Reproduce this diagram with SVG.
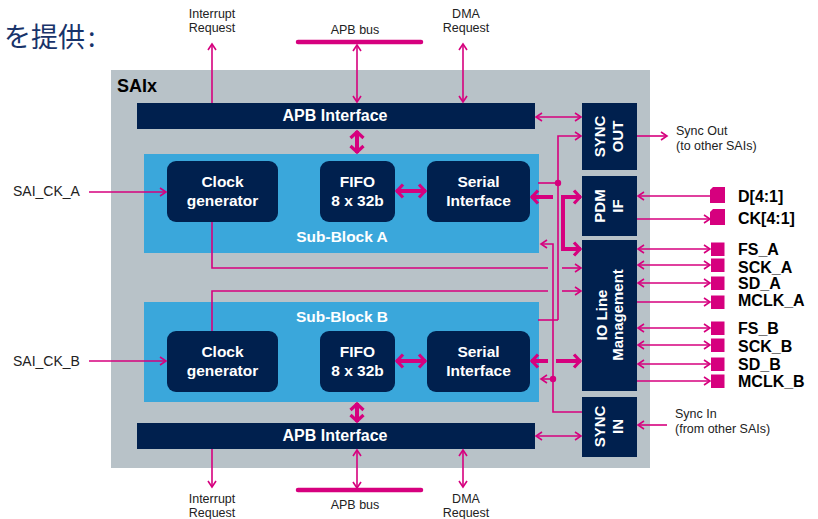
<svg xmlns="http://www.w3.org/2000/svg" width="818" height="519" viewBox="0 0 818 519">
<defs>
<style>
.nv{fill:#00204E}
.lb{fill:#3AA7DB}
.wt{fill:#FFFFFF;font-family:"Liberation Sans",Arial,sans-serif;font-weight:bold;font-size:15.5px;text-anchor:middle}
.rt{fill:#FFFFFF;font-family:"Liberation Sans",Arial,sans-serif;font-weight:bold;font-size:15px;text-anchor:middle}
.sm{fill:#222222;font-family:"Liberation Sans",Arial,sans-serif;font-size:12.5px}
.smc{text-anchor:middle}
.pin{fill:#000000;font-family:"Liberation Sans",Arial,sans-serif;font-weight:bold;font-size:16px}
.ln{fill:none;stroke:#D6007E;stroke-width:1.6}
.th{fill:none;stroke:#D6007E;stroke-width:4}
.bus{fill:none;stroke:#D6007E;stroke-width:4.5;stroke-linecap:round}
.pad{fill:#D6007E}
</style>
<marker id="a" viewBox="0 0 10 10" refX="8" refY="5" markerWidth="10" markerHeight="10" markerUnits="userSpaceOnUse" orient="auto-start-reverse">
<path d="M2,1 L8,5 L2,9" fill="none" stroke="#D6007E" stroke-width="1.6"/>
</marker>
<marker id="t" viewBox="0 0 16 16" refX="11" refY="8" markerWidth="16" markerHeight="16" markerUnits="userSpaceOnUse" orient="auto-start-reverse">
<path d="M4,1.5 L10,8 L4,14.5" fill="none" stroke="#D6007E" stroke-width="3.2" stroke-linejoin="miter" stroke-linecap="butt"/>
</marker>
</defs>
<rect width="818" height="519" fill="#FFFFFF"/>
<text x="4" y="47" font-family="'Noto Sans CJK JP','Noto Sans CJK SC',sans-serif" font-size="27" fill="#18336A">を提供<tspan dx="3">:</tspan></text>

<g id="saix">
<rect x="111" y="70" width="539" height="398" fill="#B8C2C8"/>
<text x="117" y="92" font-family="'Liberation Sans',Arial,sans-serif" font-weight="bold" font-size="18" fill="#000000">SAIx</text>
</g>

<g id="subblock-a">
<rect class="lb" x="144" y="154" width="395" height="99"/>
<text class="wt" x="342" y="242">Sub-Block A</text>
</g>
<g id="subblock-b">
<rect class="lb" x="144" y="302" width="395" height="100"/>
<text class="wt" x="342" y="322">Sub-Block B</text>
</g>

<g id="apb-top">
<rect class="nv" x="137" y="103" width="398" height="26"/>
<text class="wt" x="335" y="121" style="font-size:16px">APB Interface</text>
</g>
<g id="apb-bottom">
<rect class="nv" x="137" y="423" width="398" height="26"/>
<text class="wt" x="335" y="441" style="font-size:16px">APB Interface</text>
</g>

<g id="clock-a">
<rect class="nv" x="167" y="161" width="111" height="61" rx="9"/>
<text class="wt" x="222.5" y="187">Clock</text>
<text class="wt" x="222.5" y="206">generator</text>
</g>
<g id="fifo-a">
<rect class="nv" x="320" y="161" width="75" height="61" rx="9"/>
<text class="wt" x="357.5" y="187">FIFO</text>
<text class="wt" x="357.5" y="206">8 x 32b</text>
</g>
<g id="serial-a">
<rect class="nv" x="427" y="161" width="103" height="61" rx="9"/>
<text class="wt" x="478.5" y="187">Serial</text>
<text class="wt" x="478.5" y="206">Interface</text>
</g>

<g id="clock-b">
<rect class="nv" x="167" y="331" width="111" height="61" rx="9"/>
<text class="wt" x="222.5" y="357">Clock</text>
<text class="wt" x="222.5" y="376">generator</text>
</g>
<g id="fifo-b">
<rect class="nv" x="320" y="331" width="75" height="61" rx="9"/>
<text class="wt" x="357.5" y="357">FIFO</text>
<text class="wt" x="357.5" y="376">8 x 32b</text>
</g>
<g id="serial-b">
<rect class="nv" x="427" y="331" width="103" height="61" rx="9"/>
<text class="wt" x="478.5" y="357">Serial</text>
<text class="wt" x="478.5" y="376">Interface</text>
</g>

<g id="sync-out">
<rect class="nv" x="582" y="103" width="55" height="67"/>
<text class="rt" transform="translate(609.5,136.5) rotate(-90)"><tspan x="0" y="-4.5">SYNC</tspan><tspan x="0" y="13.5">OUT</tspan></text>
</g>
<g id="pdm-if">
<rect class="nv" x="582" y="176" width="55" height="60"/>
<text class="rt" transform="translate(609.5,206) rotate(-90)"><tspan x="0" y="-4.5">PDM</tspan><tspan x="0" y="13.5">IF</tspan></text>
</g>
<g id="io-line">
<rect class="nv" x="582" y="240" width="55" height="151"/>
<text class="rt" transform="translate(609.5,315) rotate(-90)"><tspan x="0" y="-2.5">IO Line</tspan><tspan x="0" y="13.5">Management</tspan></text>
</g>
<g id="sync-in">
<rect class="nv" x="582" y="397" width="55" height="60"/>
<text class="rt" transform="translate(609.5,426.5) rotate(-90)"><tspan x="0" y="-4.5">SYNC</tspan><tspan x="0" y="13.5">IN</tspan></text>
</g>

<g id="pins">
<path class="pad" d="M710,190 L713,187 L725,187 L725,203 L710,203 Z"/>
<path class="pad" d="M710,212 L713,209 L725,209 L725,225 L710,225 Z"/>
<rect class="pad" x="711" y="242.5" width="13.5" height="13.5"/>
<rect class="pad" x="711" y="258.5" width="13.5" height="13.5"/>
<rect class="pad" x="711" y="276.5" width="13.5" height="13.5"/>
<rect class="pad" x="711" y="295.5" width="13.5" height="13.5"/>
<rect class="pad" x="711" y="321.5" width="13.5" height="13.5"/>
<rect class="pad" x="711" y="338.5" width="13.5" height="13.5"/>
<rect class="pad" x="711" y="357.5" width="13.5" height="13.5"/>
<rect class="pad" x="711" y="374.5" width="13.5" height="13.5"/>
<text class="pin" x="738" y="202">D[4:1]</text>
<text class="pin" x="738" y="224">CK[4:1]</text>
<text class="pin" x="738" y="255">FS_A</text>
<text class="pin" x="738" y="273">SCK_A</text>
<text class="pin" x="738" y="289">SD_A</text>
<text class="pin" x="738" y="306">MCLK_A</text>
<text class="pin" x="738" y="334">FS_B</text>
<text class="pin" x="738" y="352">SCK_B</text>
<text class="pin" x="738" y="370">SD_B</text>
<text class="pin" x="738" y="387">MCLK_B</text>
</g>

<g id="labels">
<text class="sm smc" x="212" y="18">Interrupt</text>
<text class="sm smc" x="212" y="32">Request</text>
<text class="sm smc" x="355" y="34">APB bus</text>
<text class="sm smc" x="466" y="18">DMA</text>
<text class="sm smc" x="466" y="32">Request</text>
<text class="sm" x="676" y="135">Sync Out</text>
<text class="sm" x="676" y="150">(to other SAIs)</text>
<text class="sm" x="675" y="418">Sync In</text>
<text class="sm" x="675" y="433">(from other SAIs)</text>
<text class="sm" x="13" y="196" style="font-size:14px">SAI_CK_A</text>
<text class="sm" x="13" y="366" style="font-size:14px">SAI_CK_B</text>
<text class="sm smc" x="212" y="503">Interrupt</text>
<text class="sm smc" x="212" y="517">Request</text>
<text class="sm smc" x="355" y="509">APB bus</text>
<text class="sm smc" x="466" y="503">DMA</text>
<text class="sm smc" x="466" y="517">Request</text>
</g>

<g id="connectors">
<line class="bus" x1="298" y1="42" x2="421" y2="42"/>
<line class="bus" x1="298" y1="490" x2="421" y2="490"/>
<path class="ln" d="M357,45 V102" marker-start="url(#a)" marker-end="url(#a)"/>
<path class="ln" d="M212,103 V44" marker-end="url(#a)"/>
<path class="ln" d="M463,44 V102" marker-start="url(#a)" marker-end="url(#a)"/>
<path class="th" d="M357,131 V153" marker-start="url(#t)" marker-end="url(#t)"/>
<path class="ln" d="M536,117 H581" marker-start="url(#a)" marker-end="url(#a)"/>
<path class="ln" d="M637,136 H667" marker-end="url(#a)"/>
<path class="ln" d="M558,320 V136 H581" marker-end="url(#a)"/>
<path class="ln" d="M538,183 H558"/>
<path class="ln" d="M538,320 H558"/>
<circle cx="558" cy="183" r="3.2" fill="#D6007E"/>
<path class="ln" d="M582,412 H553 V244 H541" marker-end="url(#a)"/>
<path class="ln" d="M553,379 H541" marker-end="url(#a)"/>
<circle cx="553" cy="379" r="3.2" fill="#D6007E"/>
<path class="ln" d="M667,425 H638" marker-end="url(#a)"/>
<path class="ln" d="M536,436 H581" marker-start="url(#a)" marker-end="url(#a)"/>
<path class="th" d="M357,403 V422" marker-start="url(#t)" marker-end="url(#t)"/>
<path class="ln" d="M212,449 V487" marker-end="url(#a)"/>
<path class="ln" d="M357,450 V488" marker-start="url(#a)" marker-end="url(#a)"/>
<path class="ln" d="M463,450 V487" marker-start="url(#a)" marker-end="url(#a)"/>
<path class="ln" d="M89,192 H166" marker-end="url(#a)"/>
<path class="ln" d="M89,361 H166" marker-end="url(#a)"/>
<path class="ln" d="M212,222 V268 H548"/>
<path class="ln" d="M562,268 H581" marker-end="url(#a)"/>
<path class="ln" d="M212,331 V291 H548"/>
<path class="ln" d="M562,291 H581" marker-end="url(#a)"/>
<path class="th" d="M553,197 H531" marker-end="url(#t)"/>
<path class="th" d="M581,197 H563 V249 H581" marker-start="url(#t)" marker-end="url(#t)"/>
<path class="th" d="M548,361 H531" marker-end="url(#t)"/>
<path class="th" d="M556,361 H581" marker-end="url(#t)"/>
<path class="th" d="M396,191 H426" marker-start="url(#t)" marker-end="url(#t)"/>
<path class="th" d="M396,361 H426" marker-start="url(#t)" marker-end="url(#t)"/>
<path class="ln" d="M710,196 H638" marker-end="url(#a)"/>
<path class="ln" d="M637,219 H710" marker-end="url(#a)"/>
<path class="ln" d="M638,249 H710" marker-start="url(#a)" marker-end="url(#a)"/>
<path class="ln" d="M638,265 H710" marker-start="url(#a)" marker-end="url(#a)"/>
<path class="ln" d="M638,283 H710" marker-start="url(#a)" marker-end="url(#a)"/>
<path class="ln" d="M637,302 H710" marker-end="url(#a)"/>
<path class="ln" d="M638,328 H710" marker-start="url(#a)" marker-end="url(#a)"/>
<path class="ln" d="M638,345 H710" marker-start="url(#a)" marker-end="url(#a)"/>
<path class="ln" d="M638,364 H710" marker-start="url(#a)" marker-end="url(#a)"/>
<path class="ln" d="M637,381 H710" marker-end="url(#a)"/>
</g>
</svg>
